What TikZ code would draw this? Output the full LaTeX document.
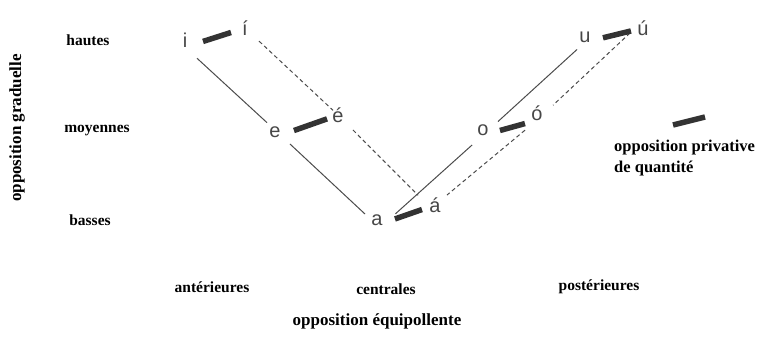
\documentclass[tikz,border=0pt]{standalone}
\usepackage{fontspec}
\setmainfont{Liberation Serif}
\newfontfamily\vowelfont{Liberation Sans}
\tikzset{
  vowel/.style={font=\vowelfont\fontsize{20}{20}\selectfont, text=black!72, inner sep=0pt, text height=14pt, text depth=0pt, anchor=base},
  lab/.style={font=\bfseries\fontsize{15.5}{17}\selectfont, inner sep=0pt, anchor=base},
  title/.style={font=\bfseries\fontsize{17}{19}\selectfont, inner sep=0pt, anchor=base},
  legendtext/.style={font=\bfseries\fontsize{16.5}{18}\selectfont, inner sep=0pt, anchor=base west},
  solidlink/.style={draw=black!70, line width=1pt},
  dashlink/.style={draw=black!70, line width=1pt, dash pattern=on 4pt off 3pt},
  quantbar/.style={draw=black!80, line width=5.5pt},
}
\begin{document}
\begin{tikzpicture}[x=1pt,y=-1pt]
\useasboundingbox[fill=white] (0,0) rectangle (766,338);
% vowels
\node[vowel] (i)  at (185,47)  {i};
\node[vowel] (ia) at (245,35)  {í};
\node[vowel] (e)  at (275,137) {e};
\node[vowel] (ea) at (338,122) {é};
\node[vowel] (a)  at (377,225) {a};
\node[vowel] (aa) at (435,212) {á};
\node[vowel] (o)  at (483,135) {o};
\node[vowel] (oa) at (537,120) {ó};
\node[vowel] (u)  at (585,42)  {u};
\node[vowel] (ua) at (643,35)  {ú};
% solid links (short vowels)
\draw[solidlink, shorten <=16.3pt, shorten >=10.9pt] (i.south) -- (e.center);
\draw[solidlink, shorten <=20.5pt, shorten >=16.4pt] (e.center) -- (a.south);
\draw[solidlink, shorten <=17pt, shorten >=14.7pt] (a.south east) -- (o.south);
\draw[solidlink, shorten <=20.3pt, shorten >=10.8pt] (o.south) -- (u.south);
% dashed links (long vowels)
\draw[dashlink, shorten <=19.2pt, shorten >=6.8pt] (ia.center) -- (ea.center);
\draw[dashlink, shorten <=21.2pt, shorten >=24pt] (ea.center) -- (aa.south);
\draw[dashlink, shorten <=17.8pt, shorten >=21.9pt] (ua.north) -- (oa.south);
\draw[dashlink, shorten <=15.6pt, shorten >=15.6pt] (oa.south) -- (aa.center);
% quantity bars
\draw[quantbar, shorten <=18.9pt, shorten >=14.7pt] (i.south) -- (ia.center);
\draw[quantbar, shorten <=20.1pt, shorten >=11.6pt] (e.south) -- (ea.center);
\draw[quantbar, shorten <=19pt, shorten >=13.8pt] (a.south) -- (aa.center);
\draw[quantbar, shorten <=17.6pt, shorten >=12.5pt] (o.south) -- (oa.south);
\draw[quantbar, shorten <=18.5pt, shorten >=12.4pt] (u.south) -- (ua.center);
% legend
\coordinate (legA) at (673,125);
\coordinate (legB) at (705,117);
\draw[quantbar] (legA) -- (legB);
\node[legendtext] (leg1) at (614,151) {opposition privative};
\node[legendtext] (leg2) at (614,172) {de quantité};
% labels
\node[lab] (hautes) at (88,45) {hautes};
\node[lab] (moyennes) at (97,132) {moyennes};
\node[lab] (basses) at (90,225) {basses};
\node[title, rotate=90] (graduelle) at (21,128) {opposition graduelle};
\node[lab] (anter) at (212,292) {antérieures};
\node[lab] (centr) at (386,294) {centrales};
\node[lab] (poster) at (599,290) {postérieures};
\node[title] (equip) at (377,325) {opposition équipollente};
\end{tikzpicture}
\end{document}
